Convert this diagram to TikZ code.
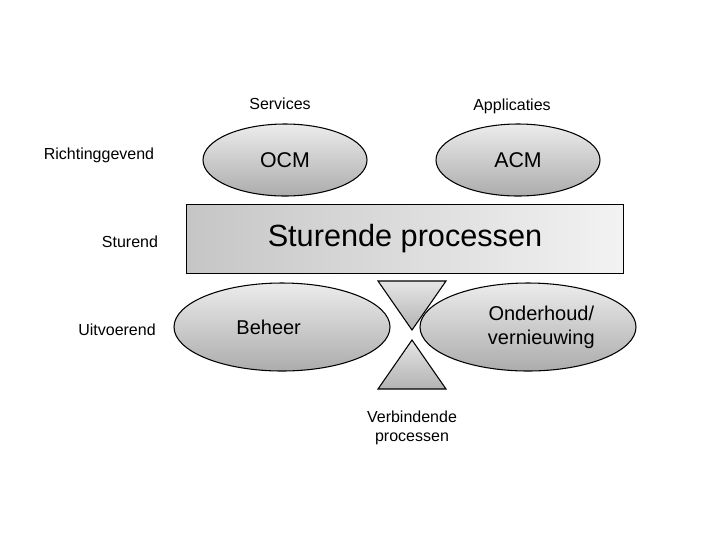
\documentclass[tikz,border=0pt]{standalone}
\usepackage{fontspec}
\setmainfont{Liberation Sans}
\usetikzlibrary{shapes.geometric}
\begin{document}
\begin{tikzpicture}[x=0.75pt,y=-0.75pt,
  ell/.style={ellipse,draw=black,line width=0.8pt,top color=gray!15,bottom color=gray!65,inner sep=0pt},
  lbl/.style={font=\fontsize{12}{14}\selectfont,align=center},
  tri/.style={draw=black,line width=0.8pt,top color=gray!20,bottom color=gray!60}]
\useasboundingbox (0,0) rectangle (720,540);
\node[lbl] (serv) at (280,104) {Services};
\node[lbl] (app) at (512,106) {Applicaties};
\node[lbl] (richt) at (99,155) {Richtinggevend};
\node[lbl] (stur) at (130,242) {Sturend};
\node[lbl] (uitv) at (117,330) {Uitvoerend};
\node[ell,minimum width=123pt,minimum height=54pt,font=\fontsize{16}{19}\selectfont] (ocm) at (285,160) {OCM};
\node[ell,minimum width=123pt,minimum height=54pt,font=\fontsize{16}{19}\selectfont] (acm) at (518,160) {ACM};
\node[draw=black,line width=0.8pt,left color=gray!45,right color=gray!10,minimum width=328pt,minimum height=52pt,inner sep=0pt,font=\fontsize{23}{27}\selectfont] (sp) at (405,239) {Sturende processen};
\node[ell,minimum width=162pt,minimum height=66pt,font=\fontsize{15}{18}\selectfont] (beh) at (282,327) {\hspace*{-20pt}Beheer};
\node[ell,minimum width=162pt,minimum height=66pt,font=\fontsize{15}{18}\selectfont,align=center] (ond) at (528,327) {\hspace*{20pt}Onderhoud/\\\hspace*{20pt}vernieuwing};
\draw[tri] (378,281) -- (446,281) -- (412,330) -- cycle;
\draw[tri] (412,340) -- (446,389) -- (378,389) -- cycle;
\node[lbl] (verb) at (412,428) {Verbindende\\processen};
\end{tikzpicture}
\end{document}
